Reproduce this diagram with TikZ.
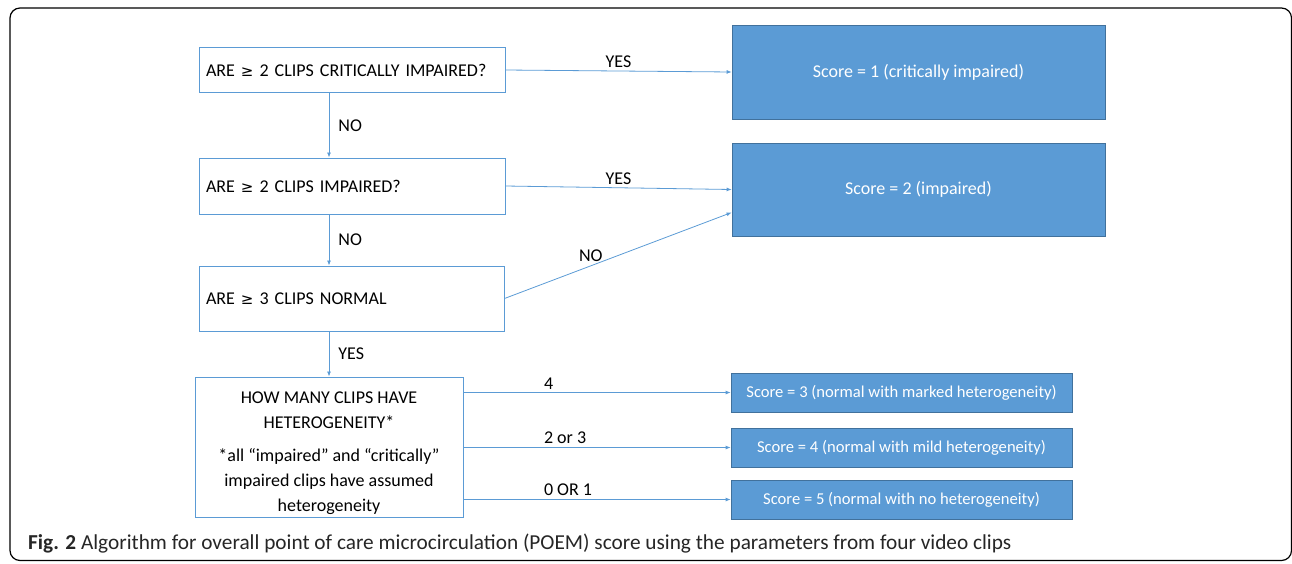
\documentclass[tikz,border=0pt]{standalone}
\usepackage{fontspec}
\setmainfont{Carlito}
\newfontfamily\symfont{DejaVu Sans}
\newcommand\gesym{{\symfont\fontsize{15}{25}\selectfont ≥}}
\newcommand\tightspace{\spaceskip=2.6pt plus 1pt\relax}
\usetikzlibrary{arrows.meta}
\definecolor{poemblue}{HTML}{5B9BD5}
\definecolor{poemedge}{HTML}{41719C}

\begin{document}
\begin{tikzpicture}[x=1pt,y=-1pt,font=\fontsize{18}{25}\selectfont,
    question/.style={draw=poemblue,line width=1pt,inner xsep=7pt,
      text width=#1,align=left,
      font=\fontsize{18}{25}\selectfont\tightspace},
    score/.style={draw=poemedge,fill=poemblue,text=white,line width=0.8pt,
      font=\fontsize{16.6}{20}\selectfont},
    flow/.style={draw=poemblue,line width=0.8pt,
      -{Latex[length=5pt,width=4pt]}},
    lbl/.style={inner sep=3pt}]
 \useasboundingbox (0,0) rectangle (1292,563);
 % outer frame
 \draw[rounded corners=10pt,line width=1.2pt] (10,8) rectangle (1291.5,560.5);
 % questions
 \node[question=292pt,minimum height=45pt] (qA) at (352,70)
  {ARE \gesym\ 2 CLIPS CRITICALLY IMPAIRED?};
 \node[question=292pt,minimum height=56pt] (qB) at (352,186)
  {ARE \gesym\ 2 CLIPS IMPAIRED?};
 \node[question=291pt,minimum height=65pt] (qC) at (351.5,298.5)
  {ARE \gesym\ 3 CLIPS NORMAL};
 \node[draw=poemblue,line width=1pt,minimum width=268pt,
  minimum height=140pt] (qD) at (329,447) {};
 \node[align=center] (qDtext) at ([yshift=-6pt]qD.center)
  {HOW MANY CLIPS HAVE\\HETEROGENEITY*\\[8pt]
   *all “impaired” and “critically”\\impaired clips have assumed\\heterogeneity};
 % scores
 \node[score,font=\fontsize{18}{20}\selectfont,minimum width=373pt,
  minimum height=94pt] (s1) at (918.5,72) {Score = 1 (critically impaired)};
 \node[score,font=\fontsize{18}{20}\selectfont,minimum width=373pt,
  minimum height=93pt] (s2) at (918.5,189.5) {Score = 2 (impaired)};
 \node[score,minimum width=341pt,minimum height=39pt] (s3) at (901.5,392.5)
  {Score = 3 (normal with marked heterogeneity)};
 \node[score,minimum width=341pt,minimum height=39pt] (s4) at (901.5,447.5)
  {Score = 4 (normal with mild heterogeneity)};
 \node[score,minimum width=341pt,minimum height=39pt] (s5) at (901.5,499.5)
  {Score = 5 (normal with no heterogeneity)};
 % connectors
 \draw[flow] (qA.east) -- node[lbl,midway,above]{YES} (s1.west);
 \draw[flow] (qB.east) -- node[lbl,midway,above]{YES} (s2.west);
 \draw[flow] (qC.east) -- node[lbl,pos=0.38,above,yshift=1pt]{NO}
  ([yshift=-23pt]s2.west);
 \draw[flow] (qA.south -| qD) -- node[lbl,midway,right,xshift=6pt]{NO}
  (qB.north -| qD);
 \draw[flow] (qB.south -| qD) -- node[lbl,midway,right,xshift=6pt]{NO}
  (qC.north -| qD);
 \draw[flow] (qC.south -| qD) -- node[lbl,midway,right,xshift=6pt]{YES}
  (qD.north);
 \foreach \S/\T in {s3/4,s4/2 or 3,s5/0 OR 1}
  {\draw[flow] (qD.east |- \S.west) -- node[lbl,pos=0.3,anchor=south west,
    inner xsep=0pt]{\T} (\S.west);}
 % caption
 \node[anchor=base west,inner sep=0pt,text=black!85,
  font=\fontsize{21.3}{25}\selectfont]
  (cap) at (28,549) {\textbf{Fig. 2} Algorithm for overall point of care
  microcirculation (POEM) score using the parameters from four video clips};
\end{tikzpicture}
\end{document}
